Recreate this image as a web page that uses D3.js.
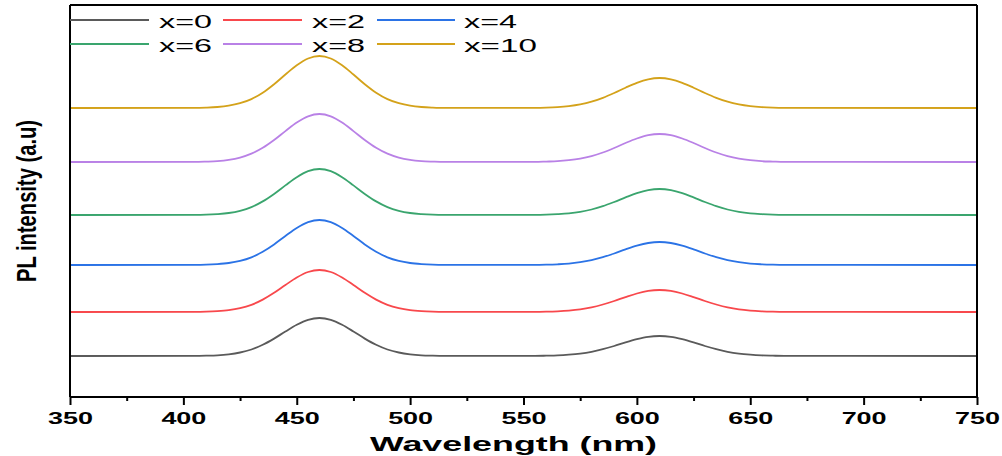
<!DOCTYPE html>
<html>
<head>
<meta charset="utf-8">
<script src="https://cdn.jsdelivr.net/npm/d3@7"></script>
<style>
  html, body { margin: 0; padding: 0; background: #fff; }
  svg { display: block; }
  text { font-family: "Liberation Sans", Arial, sans-serif; }
</style>
</head>
<body>
<svg id="chart" width="1002" height="456"></svg>
<script>
// ---- Data ----
const wavelengths = [350,
  405, 410, 415, 420, 425, 430, 435, 440, 445, 450, 455, 460, 465, 470, 475, 480, 485, 490, 495, 500, 505, 510, 515,
  555, 560, 565, 570, 575, 580, 585, 590, 595, 600, 605, 610, 615, 620, 625, 630, 635, 640, 645, 650, 655, 660, 665,
  750];

const seriesNames = ["x=0", "x=2", "x=4", "x=6", "x=8", "x=10"];

const intensityX0 = [41,
  41.1, 41.3, 41.7, 42.7, 44.5, 47.5, 52.2, 58.4, 65.5, 72.2, 77.2, 79, 77.2, 72.2, 65.5, 58.4, 52.2, 47.5, 44.5, 42.7, 41.7, 41.3, 41.1,
  41.1, 41.3, 41.6, 42.3, 43.4, 45.2, 47.8, 51, 54.6, 57.8, 60.2, 61, 60.2, 57.8, 54.6, 51, 47.8, 45.2, 43.4, 42.3, 41.6, 41.3, 41.1,
  41];
const intensityX2 = [85,
  85.1, 85.3, 85.8, 86.8, 88.8, 92.2, 97.4, 104.2, 112, 119.5, 125, 127, 125, 119.5, 112, 104.2, 97.4, 92.2, 88.8, 86.8, 85.8, 85.3, 85.1,
  85.1, 85.3, 85.7, 86.4, 87.6, 89.6, 92.5, 96, 99.9, 103.5, 106.1, 107, 106.1, 103.5, 99.9, 96, 92.5, 89.6, 87.6, 86.4, 85.7, 85.3, 85.1,
  85];
const intensityX4 = [132,
  132.1, 132.3, 132.9, 134, 136.1, 139.7, 145.3, 152.6, 161, 169, 174.8, 177, 174.8, 169, 161, 152.6, 145.3, 139.7, 136.1, 134, 132.9, 132.3, 132.1,
  132.1, 132.3, 132.7, 133.4, 134.8, 136.9, 139.8, 143.5, 147.6, 151.3, 154, 155, 154, 151.3, 147.6, 143.5, 139.8, 136.9, 134.8, 133.4, 132.7, 132.3, 132.1,
  132];
const intensityX6 = [182,
  182.1, 182.3, 182.9, 184, 186.2, 189.9, 195.6, 203.1, 211.6, 219.8, 225.8, 228, 225.8, 219.8, 211.6, 203.1, 195.6, 189.9, 186.2, 184, 182.9, 182.3, 182.1,
  182.1, 182.3, 182.8, 183.6, 185.1, 187.5, 190.8, 195, 199.6, 203.9, 206.9, 208, 206.9, 203.9, 199.6, 195, 190.8, 187.5, 185.1, 183.6, 182.8, 182.3, 182.1,
  182];
const intensityX8 = [235,
  235.1, 235.4, 235.9, 237.1, 239.4, 243.3, 249.2, 257, 265.9, 274.5, 280.7, 283, 280.7, 274.5, 265.9, 257, 249.2, 243.3, 239.4, 237.1, 235.9, 235.4, 235.1,
  235.1, 235.4, 235.8, 236.8, 238.4, 240.9, 244.5, 249, 254, 258.5, 261.8, 263, 261.8, 258.5, 254, 249, 244.5, 240.9, 238.4, 236.8, 235.8, 235.4, 235.1,
  235];
const intensityX10 = [289,
  289.1, 289.4, 290, 291.3, 293.8, 297.9, 304.3, 312.8, 322.5, 331.7, 338.5, 341, 338.5, 331.7, 322.5, 312.8, 304.3, 297.9, 293.8, 291.3, 290, 289.4, 289.1,
  289.2, 289.4, 289.9, 290.9, 292.6, 295.3, 299.2, 304, 309.3, 314.2, 317.7, 319, 317.7, 314.2, 309.3, 304, 299.2, 295.3, 292.6, 290.9, 289.9, 289.4, 289.2,
  289];

const xTickValues = [350, 400, 450, 500, 550, 600, 650, 700, 750];
const xMinorTicks = [375, 425, 475, 525, 575, 625, 675, 725];

const allSeries = [intensityX0, intensityX2, intensityX4, intensityX6, intensityX8, intensityX10];
const colors = ["#5a5a5a", "#f8484c", "#2b73e6", "#3aa56e", "#b981e6", "#d4a21a"];

// ---- Layout ----
const svg = d3.select("#chart");
const mLeft = 70, mRight = 977, mTop = 5, mBottom = 397;

const x = d3.scaleLinear().domain([350, 750]).range([mLeft, mRight]);
const y = d3.scaleLinear().domain([0, 392]).range([mBottom, mTop]);

// Curves
const line = d3.line()
  .x((d, i) => x(wavelengths[i]))
  .y(d => y(d))
  .curve(d3.curveMonotoneX);

svg.append("g").selectAll("path")
  .data(allSeries)
  .join("path")
  .attr("d", d => line(d))
  .attr("fill", "none")
  .attr("stroke", (d, i) => colors[i])
  .attr("stroke-width", 1.8);

// Frame (top, right, left)
svg.append("line").attr("x1", mLeft).attr("x2", mRight).attr("y1", mTop).attr("y2", mTop)
  .attr("stroke", "#000").attr("stroke-width", 2);
svg.append("line").attr("x1", mRight).attr("x2", mRight).attr("y1", mTop).attr("y2", mBottom)
  .attr("stroke", "#000").attr("stroke-width", 2);
svg.append("line").attr("x1", mLeft).attr("x2", mLeft).attr("y1", mTop).attr("y2", mBottom)
  .attr("stroke", "#000").attr("stroke-width", 2);

// X axis
const xAxis = d3.axisBottom(x).tickValues(xTickValues).tickSize(8).tickPadding(7)
  .tickFormat(d3.format("d"));
const gx = svg.append("g").attr("transform", `translate(0,${mBottom})`).call(xAxis);
gx.select(".domain").attr("stroke", "#000").attr("stroke-width", 2)
  .attr("d", `M${mLeft},0H${mRight}`);
gx.selectAll(".tick line").attr("stroke", "#000").attr("stroke-width", 2);
gx.selectAll(".tick text")
  .attr("font-size", 16.5).attr("font-weight", "bold").attr("fill", "#000")
  .attr("textLength", 45).attr("lengthAdjust", "spacingAndGlyphs");

const xMinor = d3.axisBottom(x).tickValues(xMinorTicks).tickSize(4).tickFormat("");
const gxm = svg.append("g").attr("transform", `translate(0,${mBottom})`).call(xMinor);
gxm.select(".domain").remove();
gxm.selectAll(".tick line").attr("stroke", "#000").attr("stroke-width", 2);

// Axis titles
svg.append("text")
  .attr("x", 513.5).attr("y", 451)
  .attr("text-anchor", "middle")
  .attr("font-size", 21).attr("font-weight", "bold")
  .attr("textLength", 287).attr("lengthAdjust", "spacingAndGlyphs")
  .text("Wavelength (nm)");

svg.append("text")
  .attr("transform", "translate(36,201) rotate(-90)")
  .attr("text-anchor", "middle")
  .attr("font-size", 27).attr("font-weight", "bold")
  .attr("textLength", 162).attr("lengthAdjust", "spacingAndGlyphs")
  .text("PL intensity (a.u)");

// Legend
const legendCols = [[70, 149, 159], [223, 302, 312], [377, 455, 464]];
const legendRows = [20, 44];
const lg = svg.append("g");
seriesNames.forEach((name, i) => {
  const col = legendCols[i % 3];
  const row = legendRows[Math.floor(i / 3)];
  lg.append("line").attr("x1", col[0]).attr("x2", col[1]).attr("y1", row).attr("y2", row)
    .attr("stroke", colors[i]).attr("stroke-width", 1.8);
  lg.append("text").attr("x", col[2]).attr("y", row + 8)
    .attr("font-size", 18.5).attr("fill", "#000")
    .attr("textLength", name.length > 3 ? 73 : 53)
    .attr("lengthAdjust", "spacingAndGlyphs")
    .text(name);
});
</script>
</body>
</html>
